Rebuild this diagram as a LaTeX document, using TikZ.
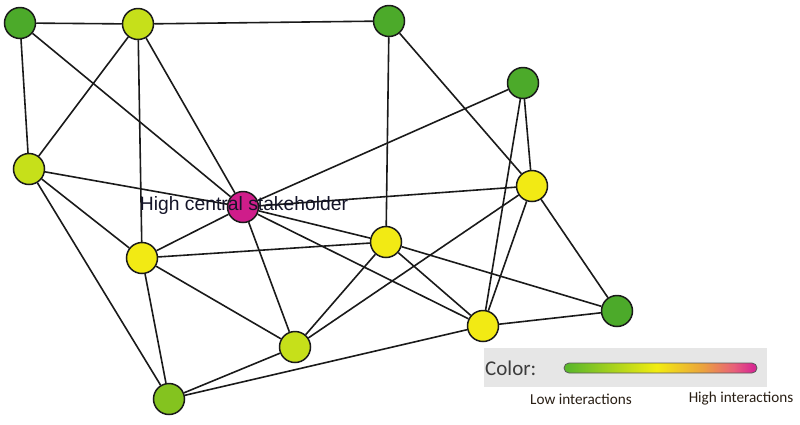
\documentclass[tikz,border=0pt]{standalone}
\usepackage{fontspec}
\setmainfont{Liberation Sans}
\newfontfamily\legendfont{Carlito}
\usetikzlibrary{backgrounds}
\definecolor{cgreen}{HTML}{4CAA2A}
\definecolor{cyg}{HTML}{C6E01A}
\definecolor{cyellow}{HTML}{F2EA14}
\definecolor{cmag}{HTML}{CF1D8A}
\definecolor{cmid}{HTML}{84C31F}
\definecolor{edgecol}{HTML}{1A1A1A}
\definecolor{legbg}{HTML}{E6E6E6}
\definecolor{lgA}{HTML}{5CB82A}
\definecolor{lgB}{HTML}{F2EC10}
\definecolor{lgC}{HTML}{EBA23E}
\definecolor{lgD}{HTML}{E8607A}
\definecolor{lgE}{HTML}{D82A92}
\pgfdeclarehorizontalshading{legshade}{100bp}{
  color(0bp)=(lgA); color(26bp)=(lgA);
  color(49bp)=(lgB); color(61bp)=(lgC);
  color(69bp)=(lgD); color(74bp)=(lgE); color(100bp)=(lgE)}
\tikzset{
  vtx/.style={circle, draw=edgecol, line width=1.5pt, minimum size=31pt, inner sep=0pt},
  lnk/.style={draw=edgecol, line width=1.6pt},
}
\begin{document}
\begin{tikzpicture}[x=1pt,y=-1pt]
\useasboundingbox (0,0) rectangle (800,424);
% nodes
\node[vtx, fill=cgreen] (A) at (20,23) {};
\node[vtx, fill=cyg] (B) at (138,24) {};
\node[vtx, fill=cgreen] (C) at (389,21) {};
\node[vtx, fill=cgreen] (D) at (523,83) {};
\node[vtx, fill=cyg] (E) at (29,169) {};
\node[vtx, fill=cmag] (F) at (243,207) {};
\node[vtx, fill=cyellow] (G) at (532,186) {};
\node[vtx, fill=cyellow] (H) at (386,242) {};
\node[vtx, fill=cyellow] (I) at (142,258) {};
\node[vtx, fill=cgreen] (J) at (617,311) {};
\node[vtx, fill=cyellow] (K) at (483,326) {};
\node[vtx, fill=cyg] (L) at (295,347) {};
\node[vtx, fill=cmid] (M) at (169,399) {};
% label
\node[text={rgb,255:red,20;green,20;blue,40}, font=\fontsize{19.3}{22}\selectfont, inner sep=0pt] (lab) at (244,206) {High central stakeholder};
% edges
\begin{scope}[on background layer]
\foreach \a/\b in {A/B, A/E, A/F, B/C, B/E, B/I, B/F, C/H, C/G, D/F, D/G, D/K,
  E/F, E/I, E/M, F/G, F/H, F/K, F/L, F/I, I/H, I/L, I/M, G/K, G/L, G/J,
  H/L, H/K, H/J, K/M, L/M, K/J}
  \draw[lnk] (\a) -- (\b);
\end{scope}
% legend
\fill[legbg] (484,348) rectangle (767,387);
\node[anchor=west, inner sep=0pt, text={rgb,255:red,60;green,60;blue,60}, font=\legendfont\fontsize{21}{24}\selectfont] (col) at (485,368) {Color:};
\shade[shading=legshade, draw={rgb,255:red,90;green,90;blue,90}, line width=0.8pt, rounded corners=5pt] (564,363) rectangle (757,373);
\node[inner sep=0pt, text={rgb,255:red,40;green,30;blue,20}, font=\legendfont\fontsize{15.2}{17}\selectfont] (low) at (581,399) {Low interactions};
\node[inner sep=0pt, text={rgb,255:red,40;green,30;blue,20}, font=\legendfont\fontsize{15.2}{17}\selectfont] (high) at (741,399) {High interactions};
\end{tikzpicture}
\end{document}
